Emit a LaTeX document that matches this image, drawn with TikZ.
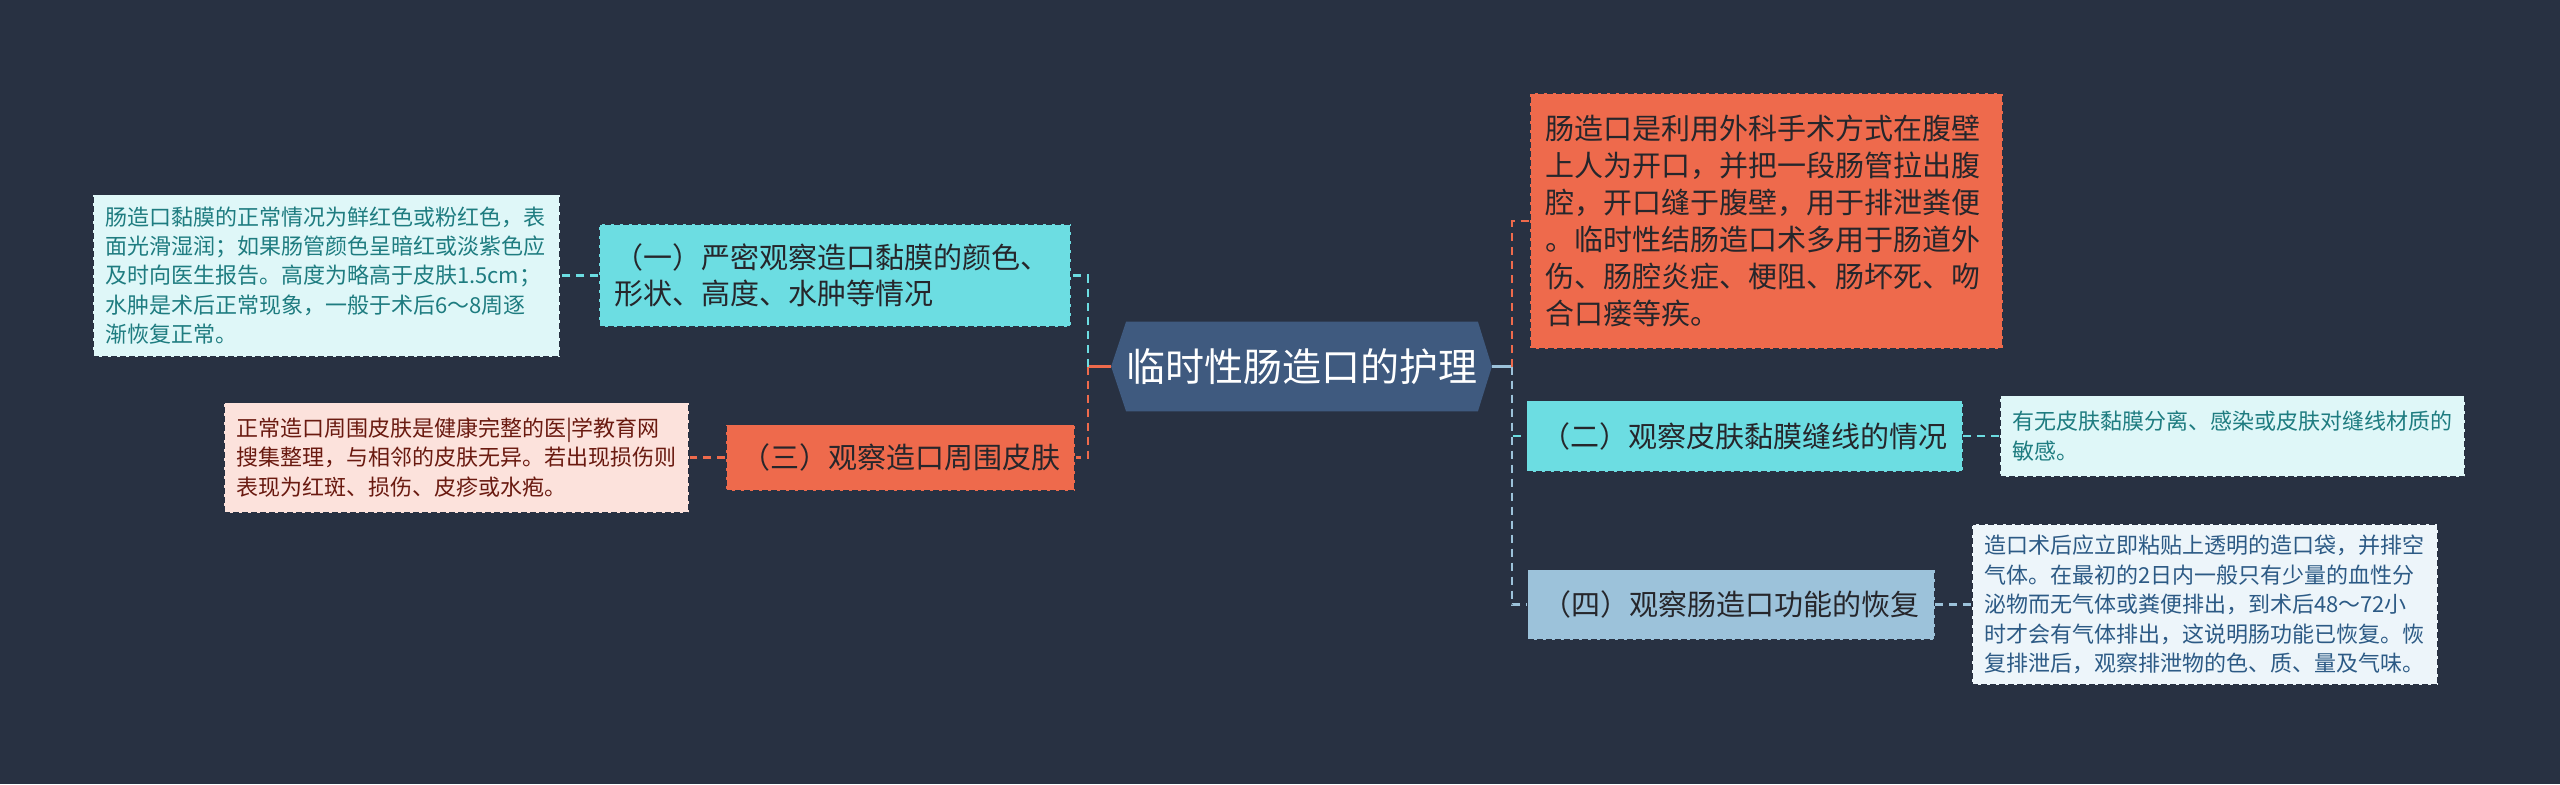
\documentclass[tikz,border=0pt]{standalone}
\usepackage{fontspec}
\setmainfont{Noto Sans CJK SC}
\usetikzlibrary{backgrounds}
\definecolor{bgdark}{HTML}{283142}
\definecolor{rootblue}{HTML}{3F5A7F}
\definecolor{cyanfill}{HTML}{6CDDE2}
\definecolor{cyanleaf}{HTML}{DFF7F8}
\definecolor{cyantext}{HTML}{1E7C80}
\definecolor{orangefill}{HTML}{EE6A4C}
\definecolor{pinkleaf}{HTML}{FCE2DC}
\definecolor{redtext}{HTML}{6A1A10}
\definecolor{bluefill}{HTML}{9CC2DA}
\definecolor{blueleaf}{HTML}{EDF5FA}
\definecolor{bluetext}{HTML}{2C5A85}
\definecolor{darktext}{HTML}{26262B}

\begin{document}
\begin{tikzpicture}[x=0.5pt, y=-0.5pt,
    box/.style={rectangle, draw=bgdark, dash pattern=on 3pt off 1.5pt, line width=0.6pt, inner ysep=0pt},
    branch/.style={box, text=darktext, font=\fontsize{14.5}{18}\selectfont, inner xsep=7.5pt},
    leaf/.style={box, font=\fontsize{11}{14.7}\selectfont, inner xsep=6pt, align=left},
    link/.style={line width=1.3pt, dash pattern=on 4pt off 3pt},
    trunk/.style={line width=1.5pt}]

            % page size
            \useasboundingbox (0,0) rectangle (2560,784);

            % draw the root node (its hexagon is filled behind it below)
            \node[rectangle, minimum width=175pt, minimum height=44.5pt, inner sep=0pt,
                  text=white, font=\fontsize{19.5}{24}\selectfont] (root) at (1302,366.5) {临时性肠造口的护理};

            % left branches
            \node[branch, fill=cyanfill, text width=221pt, minimum height=51.5pt, align=left] (nodeA) at (835,275.5)
                {（一）严密观察造口黏膜的颜色、\\形状、高度、水肿等情况};
            \node[branch, fill=orangefill, minimum width=170.5pt, minimum height=33pt] (nodeC) at (900.5,457.5)
                {（三）观察造口周围皮肤};

            % right branches
            \node[branch, fill=orangefill, text width=221.5pt, minimum height=128pt, align=left,
                  font=\fontsize{14.5}{18.5}\selectfont] (nodeE) at (1766.5,221)
                {肠造口是利用外科手术方式在腹壁\\上人为开口，并把一段肠管拉出腹\\腔，开口缝于腹壁，用于排泄粪便\\。临时性结肠造口术多用于肠道外\\伤、肠腔炎症、梗阻、肠坏死、吻\\合口瘘等疾。};
            \node[branch, fill=cyanfill, minimum width=214.5pt, minimum height=35.5pt] (nodeB) at (1744.5,436)
                {（二）观察皮肤黏膜缝线的情况};
            \node[branch, fill=bluefill, minimum width=201pt, minimum height=35pt] (nodeD) at (1731,604.5)
                {（四）观察肠造口功能的恢复};

            % leaves
            \node[leaf, fill=cyanleaf, text=cyantext, text width=221.5pt, minimum height=81pt] (tipA) at (326.5,275.5)
                {肠造口黏膜的正常情况为鲜红色或粉红色，表\\面光滑湿润；如果肠管颜色呈暗红或淡紫色应\\及时向医生报告。高度为略高于皮肤1.5cm；\\水肿是术后正常现象，一般于术后6～8周逐\\渐恢复正常。};
            \node[leaf, fill=pinkleaf, text=redtext, text width=220.5pt, minimum height=55pt] (tipC) at (456.5,457.5)
                {正常造口周围皮肤是健康完整的医|学教育网\\搜集整理，与相邻的皮肤无异。若出现损伤则\\表现为红斑、损伤、皮疹或水疱。};
            \node[leaf, fill=cyanleaf, text=cyantext, text width=220.5pt, minimum height=40.5pt] (tipB) at (2232.5,436)
                {有无皮肤黏膜分离、感染或皮肤对缝线材质的\\敏感。};
            \node[leaf, fill=blueleaf, text=bluetext, text width=221pt, minimum height=80.5pt] (tipD) at (2205,604.5)
                {造口术后应立即粘贴上透明的造口袋，并排空\\气体。在最初的2日内一般只有少量的血性分\\泌物而无气体或粪便排出，到术后48～72小\\时才会有气体排出，这说明肠功能已恢复。恢\\复排泄后，观察排泄物的色、质、量及气味。};

            % background and the root hexagon
            \begin{scope}[on background layer]
              \fill[bgdark] (0,0) rectangle (2560,784);
              \fill[rootblue] (root.north west) -- (root.north east) -- ([xshift=7pt]root.east)
                -- (root.south east) -- (root.south west) -- ([xshift=-7.5pt]root.west) -- cycle;
            \end{scope}

            % spine points
            \coordinate (spineL) at (1088,366.5);
            \coordinate (spineR) at (1512,366.5);

            % draw the left connectors
            \draw[trunk, orangefill] ([xshift=-7.5pt]root.west) -- (spineL);
            \draw[link, cyanfill] (spineL) |- (nodeA.east);
            \draw[link, orangefill] (spineL) |- (nodeC.east);

            % draw the right connectors
            \draw[trunk, bluefill] ([xshift=7pt]root.east) -- (spineR);
            \draw[link, orangefill] (spineR) |- (nodeE.west);
            \draw[link, cyanfill] (spineR) |- (nodeB.west);
            \draw[link, bluefill] (spineR) |- (nodeD.west);

            % draw the leaf connectors
            \draw[link, cyanfill] (nodeA.west) -- (tipA.east);
            \draw[link, orangefill] (nodeC.west) -- (tipC.east);
            \draw[link, cyanfill] (nodeB.east) -- (tipB.west);
            \draw[link, bluefill] (nodeD.east) -- (tipD.west);
\end{tikzpicture}
\end{document}
